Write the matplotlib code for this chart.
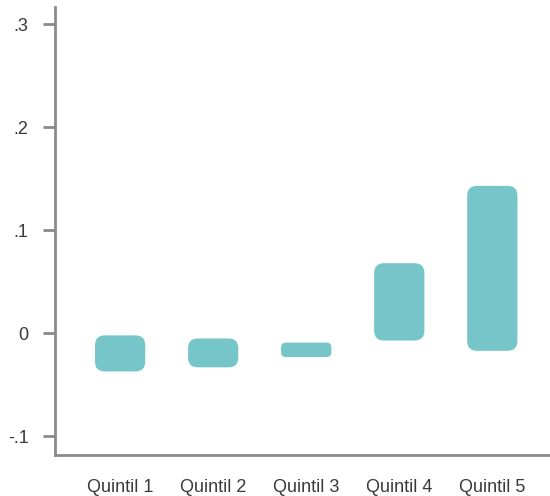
import numpy as np
import matplotlib.pyplot as plt
from matplotlib.patches import FancyBboxPatch

# data
categories = ['Quintil 1', 'Quintil 2', 'Quintil 3', 'Quintil 4', 'Quintil 5']
low = [-0.037, -0.033, -0.023, -0.007, -0.017]
high = [-0.002, -0.005, -0.009, 0.068, 0.143]
yticks = [-0.1, 0, 0.1, 0.2, 0.3]
ytick_labels = ['-.1', '0', '.1', '.2', '.3']

teal = '#76C6C9'
grey = '#8a8a8a'

plt.rcParams['font.family'] = ['Liberation Sans', 'DejaVu Sans']

fig = plt.figure(figsize=(5.5, 4.96), dpi=100)
ax = fig.add_axes([0.1, 0.0827, 0.9, 0.9032])

x = np.arange(len(categories))
heights = np.array(high) - np.array(low)
bars = ax.bar(x, heights, bottom=low, width=0.54, color=teal)

ax.set_xlim(-0.7, 4.62)
ax.set_ylim(-0.118, 0.3165)

# swap plain bars for rounded ones
aspect = (1 / 1030) / (1 / 93)   # y units per x unit on screen
for b in bars:
    bx, by = b.get_x(), b.get_y()
    bw, bh = b.get_width(), b.get_height()
    r = min(0.105, (bh / aspect) / 3)
    p = FancyBboxPatch((bx, by), bw, bh,
                       boxstyle='round,pad=0,rounding_size=%f' % r,
                       mutation_aspect=aspect,
                       facecolor=teal, edgecolor='none')
    ax.add_patch(p)
    b.remove()

ax.set_xticks(x)
ax.set_xticklabels(categories, fontsize=13, color='#3a3a3a')
ax.set_yticks(yticks)
ax.set_yticklabels(ytick_labels, fontsize=13, color='#3a3a3a')

ax.tick_params(axis='x', length=0, pad=17)
ax.tick_params(axis='y', length=9, width=2, color=grey, pad=10)

for s in ['top', 'right']:
    ax.spines[s].set_visible(False)
for s in ['left', 'bottom']:
    ax.spines[s].set_color(grey)
    ax.spines[s].set_linewidth(2)

fig.savefig('out.png', dpi=100)
